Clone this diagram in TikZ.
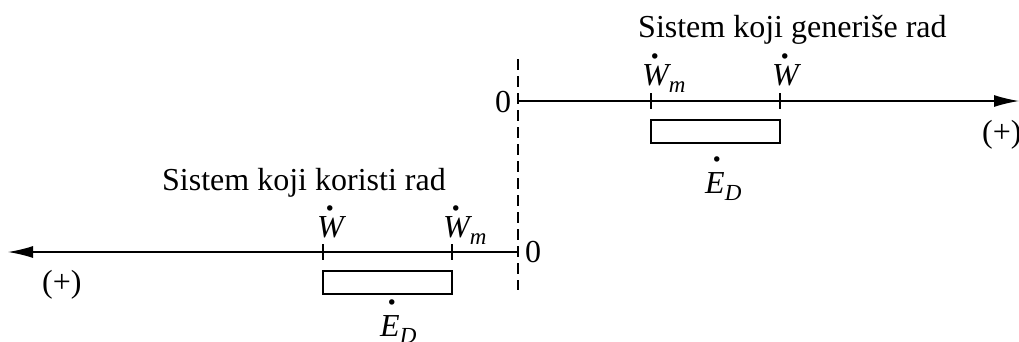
\documentclass[tikz,border=0pt]{standalone}
\usepackage{fontspec}
\setmainfont{Liberation Serif}
\usetikzlibrary{arrows.meta}
\newcommand\dotover[3][0pt]{\setbox0=\hbox{\itshape #3}\leavevmode\hbox to \wd0{\hss\hspace{#1}\raisebox{#2}[0pt][0pt]{\upshape\fontsize{46}{46}\selectfont.}\hss}\kern-\wd0\box0}
\newcommand\subit[1]{\raisebox{-7pt}{\fontsize{23}{26}\selectfont\itshape #1}}
\begin{document}
\begin{tikzpicture}[x=1pt,y=-1pt,
  lbl/.style={font=\fontsize{32}{38}\selectfont, inner sep=0pt, anchor=base west},
  axis/.style={line width=1.4pt, -{Latex[length=25pt,width=12pt]}},
  tick/.style={line width=1.2pt},
  bar/.style={draw, line width=1.3pt},
  sep/.style={line width=1.2pt, dash pattern=on 11pt off 6pt}]
\useasboundingbox (0,0) rectangle (1019,341);
% separator
\coordinate (s1) at (518,59);
\coordinate (s2) at (518,290);
\draw[sep] (s1) -- (s2);
% upper axis
\coordinate (o1) at (518,101);
\coordinate (e1) at (1019,101);
\draw[axis] (o1) -- (e1);
\coordinate (ta1) at (651,93); \coordinate (tb1) at (651,109);
\coordinate (ta2) at (780,93); \coordinate (tb2) at (780,109);
\draw[tick] (ta1) -- (tb1);
\draw[tick] (ta2) -- (tb2);
\node[bar, minimum width=129pt, minimum height=23pt, inner sep=0pt] (r1) at (715.5,131.5) {};
\node[lbl] (z1) at (495,112) {0};
\node[lbl] (p1) at (982,142) {(+)};
\node[lbl] (h1) at (638,37) {Sistem koji generiše rad};
\node[lbl] (wm1) at (642,85) {\dotover{27pt}{W}\subit{m}};
\node[lbl] (w1) at (772,85) {\dotover{27pt}{W}};
\node[lbl] (ed1) at (705,193) {\dotover[4pt]{32pt}{E}\subit{D}};
% lower axis
\coordinate (o2) at (518,252);
\coordinate (e2) at (8,252);
\draw[axis] (o2) -- (e2);
\coordinate (ta3) at (323,244); \coordinate (tb3) at (323,260);
\coordinate (ta4) at (452,244); \coordinate (tb4) at (452,260);
\draw[tick] (ta3) -- (tb3);
\draw[tick] (ta4) -- (tb4);
\node[bar, minimum width=129pt, minimum height=23pt, inner sep=0pt] (r2) at (387.5,282.5) {};
\node[lbl] (z2) at (525,262) {0};
\node[lbl] (p2) at (42,292) {(+)};
\node[lbl] (h2) at (162,190) {Sistem koji koristi rad};
\node[lbl] (w2) at (317,237) {\dotover{27pt}{W}};
\node[lbl] (wm2) at (443,237) {\dotover{27pt}{W}\subit{m}};
\node[lbl] (ed2) at (380,336) {\dotover[4pt]{32pt}{E}\subit{D}};
\end{tikzpicture}
\end{document}
